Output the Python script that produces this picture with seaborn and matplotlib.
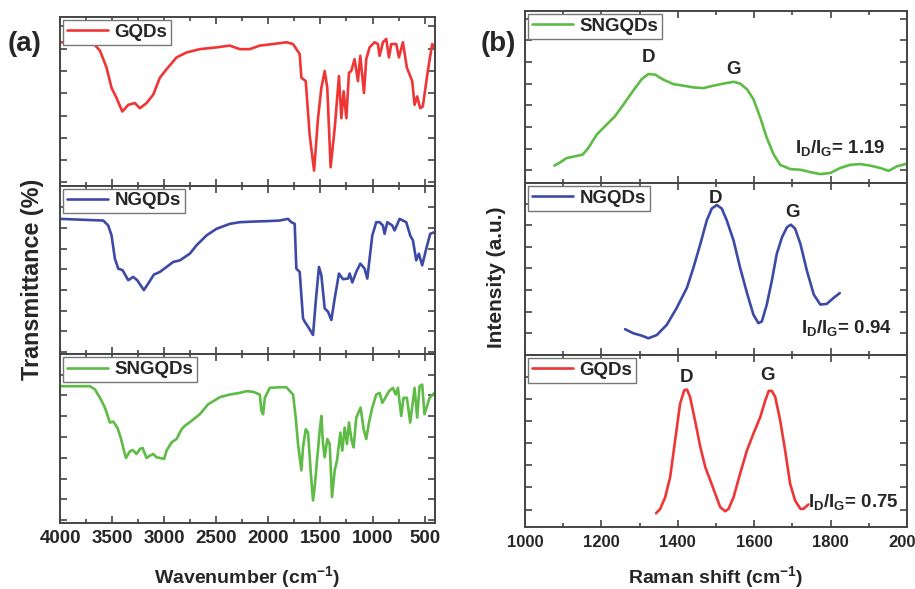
import numpy as np
import pandas as pd
import matplotlib
matplotlib.use("Agg")
import matplotlib.pyplot as plt
from matplotlib.ticker import MultipleLocator
import seaborn as sns

# ============================================================
# Data
# ============================================================

# (a) FTIR spectra
gqd_ftir_wn = [4000, 3680, 3616, 3553, 3505, 3457, 3402, 3345, 3281, 3233, 3169, 3105, 3041, 2977,
               2881, 2786, 2658, 2498, 2370, 2274, 2178, 2082, 1955, 1827, 1763, 1699, 1683, 1641,
               1603, 1561, 1523, 1491, 1459, 1434, 1402, 1363, 1322, 1299, 1277, 1251, 1226, 1204,
               1172, 1140, 1117, 1082, 1060, 1028, 980, 948, 932, 900, 868, 842, 820, 772, 746, 708,
               670, 619, 596, 571, 542, 517, 469, 427, 404]
gqd_ftir_t = [62.9, 62.4, 59.1, 51.5, 42.4, 37.9, 31.8, 34.8, 35.6, 33.3, 35.6, 39.4, 47.0, 50.8,
              56.1, 58.3, 59.8, 60.6, 61.4, 59.8, 59.8, 61.4, 62.1, 62.9, 62.1, 57.6, 47.0, 45.5,
              21.2, 5.3, 28.8, 42.4, 50.0, 42.4, 6.8, 24.2, 47.7, 28.8, 40.9, 28.8, 49.2, 50.0,
              55.3, 45.5, 56.8, 40.1, 55.3, 60.6, 62.9, 62.1, 56.8, 62.9, 64.4, 56.1, 62.1, 62.1,
              56.1, 62.9, 51.5, 45.5, 34.8, 38.6, 33.3, 34.1, 50.0, 62.1, 60.6]

ngqd_ftir_wn = [4000, 3585, 3537, 3505, 3473, 3441, 3399, 3345, 3297, 3259, 3195, 3153, 3099, 3041,
                2977, 2913, 2849, 2754, 2690, 2594, 2498, 2370, 2274, 2146, 2018, 1891, 1811, 1779,
                1747, 1731, 1699, 1667, 1651, 1619, 1571, 1545, 1514, 1491, 1459, 1427, 1395, 1363,
                1322, 1283, 1235, 1219, 1194, 1156, 1117, 1076, 1050, 1028, 1002, 964, 932, 900,
                884, 858, 810, 788, 740, 676, 638, 612, 580, 555, 523, 484, 446, 404]
ngqd_ftir_t = [64.3, 63.5, 61.1, 56.3, 45.1, 40.3, 39.5, 34.7, 36.3, 34.7, 29.9, 33.1, 37.4, 38.7,
               41.1, 43.5, 44.3, 47.5, 51.5, 56.3, 59.5, 61.9, 62.7, 63.0, 63.2, 63.5, 64.3, 62.7,
               61.9, 40.3, 38.7, 16.3, 14.7, 12.3, 8.3, 24.3, 41.1, 37.1, 21.1, 19.5, 15.5, 25.9,
               37.9, 35.2, 35.5, 37.9, 33.6, 38.7, 42.7, 40.3, 35.5, 45.1, 56.3, 62.7, 62.7, 61.1,
               57.1, 62.7, 61.1, 58.7, 64.3, 62.7, 56.3, 53.9, 44.3, 47.5, 41.9, 49.9, 57.1, 57.9]

sngqd_ftir_wn = [4000, 3712, 3664, 3616, 3569, 3521, 3489, 3450, 3418, 3386, 3367, 3329, 3303, 3265,
                 3233, 3207, 3169, 3137, 3105, 3073, 3041, 3000, 2977, 2929, 2881, 2833, 2802, 2738,
                 2658, 2578, 2466, 2370, 2274, 2210, 2146, 2082, 2066, 2050, 2034, 1986, 1891, 1827,
                 1763, 1737, 1715, 1683, 1667, 1641, 1619, 1593, 1571, 1555, 1530, 1507, 1491, 1475,
                 1459, 1434, 1411, 1389, 1363, 1341, 1309, 1290, 1267, 1245, 1226, 1200, 1181, 1156,
                 1114, 1085, 1060, 1034, 1002, 964, 932, 906, 868, 842, 804, 778, 756, 724, 702, 670,
                 638, 596, 571, 548, 523, 501, 452, 404]
sngqd_ftir_t = [64.4, 64.4, 62.8, 58.8, 54.1, 46.9, 47.4, 44.5, 39.8, 33.4, 29.9, 33.1, 33.7, 31.8,
                34.2, 34.7, 29.9, 31.0, 31.8, 30.2, 29.9, 29.4, 33.4, 37.4, 39.0, 43.7, 45.3, 47.7,
                50.9, 55.7, 59.1, 60.4, 61.2, 62.0, 61.7, 60.4, 52.5, 50.9, 58.8, 63.6, 63.9, 63.9,
                60.4, 49.3, 36.6, 23.9, 35.0, 43.7, 42.1, 23.1, 9.5, 15.9, 30.2, 42.9, 50.1, 36.6,
                30.2, 39.0, 36.6, 11.1, 23.9, 28.6, 42.1, 33.4, 44.5, 36.6, 46.9, 38.2, 35.0, 49.3,
                54.1, 43.7, 39.0, 46.9, 54.1, 60.4, 61.2, 56.4, 59.6, 62.0, 63.6, 60.4, 63.6, 50.1,
                58.8, 58.8, 46.9, 63.6, 49.3, 64.4, 65.2, 50.9, 58.8, 61.2]

# (b) Raman spectra
sngqd_raman_x = [1077, 1092, 1109, 1131, 1151, 1166, 1188, 1214, 1236, 1258, 1284, 1306, 1323, 1341,
                 1362, 1389, 1415, 1441, 1467, 1493, 1520, 1546, 1563, 1581, 1598, 1616, 1633, 1651,
                 1668, 1694, 1721, 1747, 1773, 1799, 1825, 1852, 1878, 1904, 1930, 1952, 1974, 2000]
sngqd_raman_i = [2.2, 3.7, 5.7, 6.5, 7.3, 10.4, 16.6, 21.2, 25.1, 30.5, 37.0, 42.2, 44.5, 44.2,
                 41.9, 39.8, 39.1, 38.3, 38.0, 39.1, 40.1, 40.9, 40.1, 37.5, 32.9, 24.3, 15.0, 7.3,
                 2.6, 0.6, 0.3, -0.8, -1.7, -1.2, 1.1, 2.6, 2.9, 2.2, 1.1, -0.2, 1.9, 3.1]

ngqd_raman_x = [1262, 1284, 1306, 1323, 1345, 1371, 1397, 1424, 1441, 1459, 1476, 1489, 1502, 1515,
                1528, 1546, 1563, 1581, 1598, 1611, 1620, 1633, 1646, 1659, 1673, 1686, 1696, 1707,
                1721, 1738, 1756, 1773, 1790, 1808, 1824]
ngqd_raman_i = [1.9, 0.0, -1.1, -2.3, -0.8, 3.9, 11.7, 21.1, 30.4, 41.3, 52.3, 57.7, 59.3, 57.7,
                52.3, 42.9, 30.4, 18.7, 8.6, 4.7, 5.5, 13.3, 24.2, 36.7, 44.5, 49.1, 50.2, 48.4,
                41.3, 28.9, 17.9, 13.3, 13.6, 16.4, 18.6]

gqd_raman_x = [1343, 1354, 1367, 1380, 1393, 1406, 1417, 1424, 1432, 1445, 1459, 1472, 1485, 1498,
               1511, 1524, 1533, 1546, 1563, 1581, 1598, 1616, 1629, 1638, 1646, 1655, 1668, 1681,
               1694, 1707, 1721, 1729, 1742]
gqd_raman_i = [-1.7, 0.3, 5.6, 14.7, 31.4, 48.0, 54.1, 54.4, 51.1, 40.4, 28.3, 19.2, 13.2, 7.1,
               1.1, -0.8, 0.3, 5.6, 16.2, 26.8, 34.4, 42.0, 49.5, 53.8, 53.8, 51.1, 40.4, 26.8,
               11.7, 4.1, 0.3, 0.3, 2.3]

ratios = ["1.19", "0.94", "0.75"]

RED = "#ee3636"
BLUE = "#3c4aa6"
GREEN = "#5dbb46"

# ============================================================
# Style
# ============================================================

sns.set_style("ticks")
plt.rcParams["font.family"] = ["Liberation Sans", "DejaVu Sans"]
plt.rcParams["font.weight"] = "bold"
plt.rcParams["mathtext.fontset"] = "custom"
plt.rcParams["mathtext.rm"] = "Liberation Sans:bold"
plt.rcParams["mathtext.it"] = "Liberation Sans:bold"
plt.rcParams["mathtext.bf"] = "Liberation Sans:bold"

fig = plt.figure(figsize=(9.15, 5.89), dpi=100)

left_x, left_w = 60 / 915, 375 / 915
right_x, right_w = 525 / 915, 382 / 915
lb, lt = 0.112, 0.971
rb, rt = 0.105, 0.981
lh = (lt - lb) / 3
rh = (rt - rb) / 3


def style_axis(ax):
    for s in ax.spines.values():
        s.set_linewidth(1.4)
        s.set_color("#444444")
    ax.tick_params(which="both", direction="in", top=True, right=True,
                   color="#444444", width=1.2)
    ax.tick_params(which="major", length=5)
    ax.tick_params(which="minor", length=3)
    ax.set_xlabel("")
    ax.set_ylabel("")
    ax.set_yticklabels([])


def add_legend(ax, label):
    leg = ax.legend([ax.lines[0]], [label], loc="upper left", fancybox=False,
                    framealpha=1, edgecolor="#777777", handlelength=2.2,
                    borderaxespad=0.15, borderpad=0.2, handletextpad=0.35,
                    prop={"weight": "bold", "size": 13.5})
    leg.get_frame().set_linewidth(1.0)


# ============================================================
# (a) FTIR
# ============================================================

ftir_sets = [
    ("GQDs", gqd_ftir_wn, gqd_ftir_t, RED, (-1.5, 74.2)),
    ("NGQDs", ngqd_ftir_wn, ngqd_ftir_t, BLUE, (-1.1, 80.3)),
    ("SNGQDs", sngqd_ftir_wn, sngqd_ftir_t, GREEN, (-1.4, 79.7)),
]

for i, (name, wn, t, col, ylim) in enumerate(ftir_sets):
    ax = fig.add_axes([left_x, lt - (i + 1) * lh, left_w, lh])
    df = pd.DataFrame({"Wavenumber": wn, "T": t})
    sns.lineplot(data=df, x="Wavenumber", y="T", color=col, linewidth=1.9,
                 estimator=None, ax=ax)
    ax.set_xlim(4000, 400)
    ax.set_ylim(*ylim)
    ax.xaxis.set_major_locator(MultipleLocator(500))
    ax.xaxis.set_minor_locator(MultipleLocator(250))
    ax.yaxis.set_major_locator(MultipleLocator(10))
    style_axis(ax)
    add_legend(ax, name)
    if i < 2:
        ax.set_xticklabels([])
    else:
        ax.tick_params(axis="x", labelsize=13.5, pad=5)
        ax.set_xlabel(r"Wavenumber (cm$^{-1}$)", fontsize=14, fontweight="bold",
                      labelpad=12)

fig.text(0.035, 0.525, "Transmittance (%)", rotation=90, ha="center", va="center",
         fontsize=16.8, fontweight="bold")
fig.text(0.027, 0.925, "(a)", ha="center", va="center", fontsize=20, fontweight="bold")

# ============================================================
# (b) Raman
# ============================================================

raman_sets = [
    ("SNGQDs", sngqd_raman_x, sngqd_raman_i, GREEN, (-5.9, 73.5),
     (1323, 52.0), (1546, 46.8), (1825, 10.4)),
    ("NGQDs", ngqd_raman_x, ngqd_raman_i, BLUE, (-10.1, 69.4),
     (1498, 62.4), (1699, 55.8), (1843, 2.3)),
    ("GQDs", gqd_raman_x, gqd_raman_i, RED, (-8.0, 70.0),
     (1422, 59.8), (1635, 60.9), (1860, 3.3)),
]

for i, (name, x, y, col, ylim, dpos, gpos, rpos) in enumerate(raman_sets):
    ax = fig.add_axes([right_x, rt - (i + 1) * rh, right_w, rh])
    df = pd.DataFrame({"Raman": x, "I": y})
    sns.lineplot(data=df, x="Raman", y="I", color=col, linewidth=1.9,
                 estimator=None, ax=ax)
    ax.set_xlim(1000, 2000)
    ax.set_ylim(*ylim)
    ax.xaxis.set_major_locator(MultipleLocator(200))
    ax.xaxis.set_minor_locator(MultipleLocator(100))
    ax.yaxis.set_major_locator(MultipleLocator(10))
    style_axis(ax)
    add_legend(ax, name)
    ax.text(*dpos, "D", ha="center", va="center", fontsize=13.5, fontweight="bold")
    ax.text(*gpos, "G", ha="center", va="center", fontsize=13.5, fontweight="bold")
    ax.text(*rpos, r"I$_{D}$/I$_{G}$= " + ratios[i], ha="center", va="center",
            fontsize=13.5, fontweight="bold")
    if i < 2:
        ax.set_xticklabels([])
    else:
        ax.tick_params(axis="x", labelsize=12, pad=6)
        ax.set_xlabel(r"Raman shift (cm$^{-1}$)", fontsize=14, fontweight="bold",
                      labelpad=10)

fig.text(0.543, 0.53, "Intensity (a.u.)", rotation=90, ha="center", va="center",
         fontsize=15, fontweight="bold")
fig.text(0.545, 0.925, "(b)", ha="center", va="center", fontsize=20, fontweight="bold")

fig.savefig("out.png", dpi=100)
